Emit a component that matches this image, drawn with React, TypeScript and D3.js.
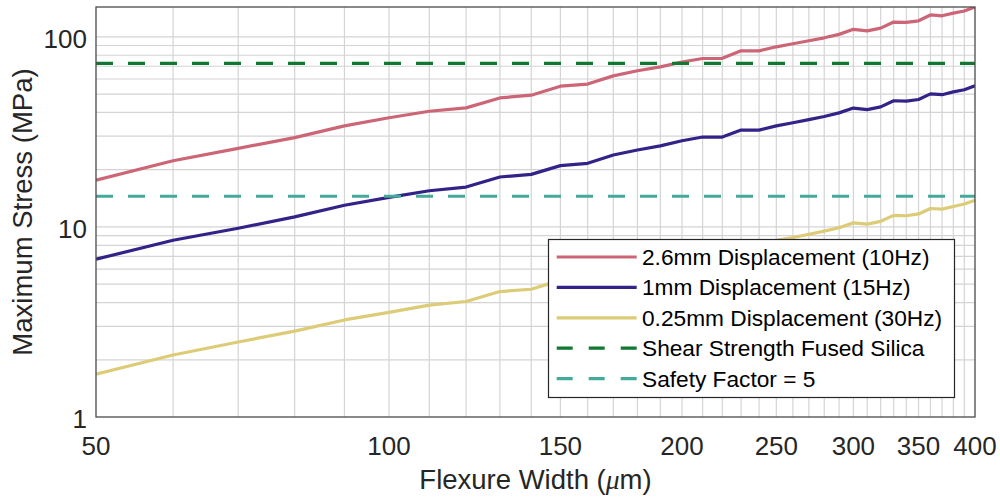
import React from "react";
import * as d3 from "d3";

// Flexure width (µm)
const widths = [
  50, 60, 70, 80, 90, 100, 110, 120, 130, 140, 150, 160, 170, 180, 190, 200, 210, 220,
  230, 240, 250, 260, 270, 280, 290, 300, 310, 320, 330, 340, 350, 360, 370, 380, 390, 400,
];

// Maximum stress (MPa) for each displacement case
const stress26mm = [
  17.6, 22.3, 25.9, 29.5, 34.0, 37.5, 40.6, 42.3, 47.7, 49.3, 55.0, 56.4, 62.3, 66.3, 69.5, 73.7,
  76.9, 77.1, 84.4, 84.4, 88.6, 91.9, 95.3, 98.8, 103.0, 109.5, 107.5, 111.1, 119.6, 119.0, 121.4,
  130.3, 129.0, 133.3, 136.7, 143.5,
];
const stress1mm = [
  6.76, 8.51, 9.84, 11.3, 13.0, 14.3, 15.5, 16.2, 18.3, 18.9, 21.0, 21.6, 23.9, 25.4, 26.7, 28.4,
  29.7, 29.7, 32.3, 32.3, 34.0, 35.3, 36.7, 38.1, 39.8, 42.2, 41.4, 42.8, 46.1, 45.9, 46.8, 50.1,
  49.6, 51.3, 52.7, 55.2,
];
const stress025mm = [
  1.68, 2.12, 2.48, 2.83, 3.24, 3.55, 3.88, 4.05, 4.57, 4.7, 5.25, 5.4, 5.97, 6.35, 6.67, 7.1,
  7.43, 7.43, 8.08, 8.08, 8.5, 8.8, 9.15, 9.5, 9.9, 10.5, 10.35, 10.7, 11.5, 11.45, 11.7, 12.5,
  12.4, 12.8, 13.2, 13.8,
];

// Horizontal reference levels (MPa)
const shearStrength = 72.5;
const safetyLimit = 14.5;

const xTicks = [50, 100, 150, 200, 250, 300, 350, 400];
const yTicks = [1, 10, 100];

const curveLabels = [
  "2.6mm Displacement (10Hz)",
  "1mm Displacement (15Hz)",
  "0.25mm Displacement (30Hz)",
];
const refLabels = ["Shear Strength Fused Silica", "Safety Factor = 5"];

const curveColors = ["#CC6677", "#332288", "#DDCC77"];
const refColors = ["#117733", "#44AA99"];

const W = 1000;
const H = 497;
const M = { left: 96, right: 975, top: 7, bottom: 417 };
const FONT = "'Liberation Sans', Arial, Helvetica, sans-serif";
const TEXT = "#262626";

export default function App() {
  const series = [stress26mm, stress1mm, stress025mm];
  const x = d3.scaleLog().domain([50, 400]).range([M.left, M.right]);
  const yMax = d3.max(stress26mm) as number;
  const y = d3.scaleLog().domain([1, yMax]).range([M.bottom, M.top]);

  // Minor grid: every 10 µm across the width axis
  const xGrid = d3.range(60, 400, 10);
  // Log-decade grid on the stress axis
  const yGrid: number[] = [];
  for (const dec of [1, 10, 100]) {
    for (let k = 1; k <= 9; k++) {
      const v = dec * k;
      if (v > 1 && v < yMax) yGrid.push(v);
    }
  }

  const line = d3
    .line<number>()
    .x((_, i) => x(widths[i]))
    .y((d) => y(d));

  const legend = { x: 548.5, y: 239.5, w: 406, h: 158, row0: 257, step: 30.4 };
  const legendItems = [
    ...curveLabels.map((t, i) => ({ label: t, color: curveColors[i], dashed: false })),
    ...refLabels.map((t, i) => ({ label: t, color: refColors[i], dashed: true })),
  ];

  return (
    <svg
      width={W}
      height={H}
      style={{ position: "absolute", left: 0, top: 0, background: "#fff" }}
      fontFamily={FONT}
    >
      <defs>
        <clipPath id="plot-clip">
          <rect x={M.left} y={M.top} width={M.right - M.left} height={M.bottom - M.top} />
        </clipPath>
      </defs>

      {/* grid */}
      <g stroke="#d4d4d4" strokeWidth={1.2}>
        {xGrid.map((v) => (
          <line key={"gx" + v} x1={x(v)} x2={x(v)} y1={M.top} y2={M.bottom} />
        ))}
        {yGrid.map((v) => (
          <line key={"gy" + v} x1={M.left} x2={M.right} y1={y(v)} y2={y(v)} />
        ))}
      </g>

      {/* stress curves */}
      <g clipPath="url(#plot-clip)" fill="none" strokeWidth={3.2} strokeLinejoin="round">
        {series.map((s, i) => (
          <path key={"s" + i} d={line(s) ?? ""} stroke={curveColors[i]} />
        ))}
        {[shearStrength, safetyLimit].map((v, i) => (
          <line
            key={"r" + i}
            x1={M.left}
            x2={M.right}
            y1={y(v)}
            y2={y(v)}
            stroke={refColors[i]}
            strokeDasharray="17,15"
          />
        ))}
      </g>

      {/* axes box */}
      <rect
        x={M.left}
        y={M.top}
        width={M.right - M.left}
        height={M.bottom - M.top}
        fill="none"
        stroke="#4a4a4a"
        strokeWidth={1.3}
      />

      {/* tick labels */}
      <g fill={TEXT} fontSize={26}>
        {xTicks.map((t) => (
          <text key={"xt" + t} x={x(t)} y={455} textAnchor="middle">
            {t}
          </text>
        ))}
        {yTicks.map((t) => (
          <text key={"yt" + t} x={87} y={y(t) + 11} textAnchor="end">
            {t}
          </text>
        ))}
      </g>

      {/* axis titles */}
      <text
        x={(M.left + M.right) / 2}
        y={489}
        textAnchor="middle"
        fontSize={27.5}
        fill={TEXT}
      >
        Flexure Width (
        <tspan fontStyle="italic" fontFamily="'Liberation Serif', 'DejaVu Serif', serif">
          μ
        </tspan>
        m)
      </text>
      <text
        transform={`translate(32,${(M.top + M.bottom) / 2}) rotate(-90)`}
        textAnchor="middle"
        fontSize={27.5}
        fill={TEXT}
      >
        Maximum Stress (MPa)
      </text>

      {/* legend */}
      <g>
        <rect
          x={legend.x}
          y={legend.y}
          width={legend.w}
          height={legend.h}
          fill="#fff"
          stroke="#262626"
          strokeWidth={1.2}
        />
        {legendItems.map((it, i) => {
          const cy = legend.row0 + i * legend.step;
          return (
            <g key={"lg" + i}>
              <line
                x1={556.7}
                x2={636.7}
                y1={cy}
                y2={cy}
                stroke={it.color}
                strokeWidth={3.2}
                strokeDasharray={it.dashed ? "16,16" : undefined}
              />
              <text x={642} y={cy + 8} fontSize={22.7} fill="#000">
                {it.label}
              </text>
            </g>
          );
        })}
      </g>
    </svg>
  );
}
